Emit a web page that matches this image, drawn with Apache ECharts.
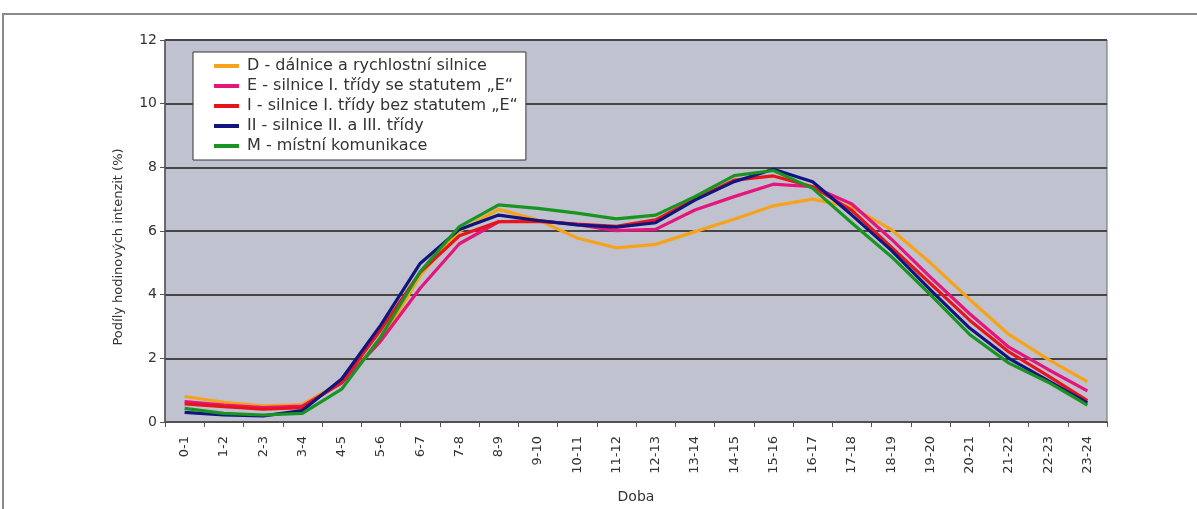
<!DOCTYPE html>
<html>
<head>
<meta charset="utf-8">
<script src="https://cdn.jsdelivr.net/npm/echarts@6/dist/echarts.min.js"></script>
<style>
  html, body { margin: 0; padding: 0; background: #ffffff; }
  #chart { width: 1197px; height: 509px; }
</style>
</head>
<body>
<div id="chart"></div>
<script>
// Hour-of-day intervals
const hours = ['0-1','1-2','2-3','3-4','4-5','5-6','6-7','7-8','8-9','9-10','10-11','11-12',
  '12-13','13-14','14-15','15-16','16-17','17-18','18-19','19-20','20-21','21-22','22-23','23-24'];

// Share of hourly traffic volume (%) per road category
const dalnice = [0.80, 0.62, 0.51, 0.55, 1.25, 2.55, 4.60, 6.00, 6.68, 6.35, 5.78, 5.47,
  5.58, 5.98, 6.37, 6.79, 7.00, 6.75, 6.05, 5.00, 3.85, 2.75, 1.97, 1.27];
const silniceE = [0.64, 0.53, 0.45, 0.50, 1.22, 2.55, 4.20, 5.60, 6.29, 6.33, 6.20, 6.01,
  6.05, 6.66, 7.08, 7.47, 7.39, 6.85, 5.75, 4.55, 3.40, 2.35, 1.65, 0.98];
const silniceI = [0.57, 0.48, 0.40, 0.45, 1.25, 2.90, 4.70, 5.85, 6.29, 6.30, 6.22, 6.15,
  6.35, 7.00, 7.60, 7.73, 7.39, 6.65, 5.50, 4.35, 3.20, 2.20, 1.45, 0.67];
const silniceII = [0.30, 0.22, 0.19, 0.36, 1.35, 3.05, 4.98, 6.05, 6.50, 6.33, 6.19, 6.12,
  6.26, 6.97, 7.55, 7.94, 7.55, 6.50, 5.40, 4.15, 2.95, 2.00, 1.30, 0.60];
const mistni = [0.43, 0.27, 0.22, 0.27, 1.03, 2.68, 4.72, 6.14, 6.82, 6.71, 6.56, 6.38,
  6.50, 7.08, 7.74, 7.90, 7.34, 6.25, 5.20, 4.00, 2.75, 1.85, 1.25, 0.53];

const seriesDefs = [
  { name: 'D - dálnice a rychlostní silnice', data: dalnice, color: '#F7A21B' },
  { name: 'E - silnice I. třídy se statutem „E“', data: silniceE, color: '#E4157C' },
  { name: 'I - silnice I. třídy bez statutem „E“', data: silniceI, color: '#E8141B' },
  { name: 'II - silnice II. a III. třídy', data: silniceII, color: '#10157F' },
  { name: 'M - místní komunikace', data: mistni, color: '#1A9421' }
];

const FONT = 'DejaVu Sans, Verdana, sans-serif';
const chart = echarts.init(document.getElementById('chart'), null, { renderer: 'canvas' });

chart.setOption({
  animation: false,
  backgroundColor: '#ffffff',
  textStyle: { fontFamily: FONT },
  graphic: [{
    type: 'rect',
    shape: { x: 3, y: 14, width: 1200, height: 520 },
    style: { fill: 'none', stroke: '#8a8a8a', lineWidth: 2 },
    silent: true
  }],
  grid: {
    left: 165, right: 90, top: 40, bottom: 87,
    show: true,
    backgroundColor: '#C0C3CF',
    borderColor: '#6b6b6b',
    borderWidth: 1
  },
  legend: {
    orient: 'vertical',
    left: 193, top: 52,
    backgroundColor: '#ffffff',
    borderColor: '#333333',
    borderWidth: 1,
    padding: [6, 8, 6, 21],
    itemGap: 4,
    itemWidth: 25,
    itemHeight: 4,
    icon: 'rect',
    textStyle: { fontFamily: FONT, fontSize: 16, color: '#333333', padding: [0, 0, 0, 3] },
    data: seriesDefs.map(s => s.name)
  },
  xAxis: {
    type: 'category',
    data: hours,
    boundaryGap: true,
    name: 'Doba',
    nameLocation: 'middle',
    nameGap: 68,
    nameTextStyle: { fontFamily: FONT, fontSize: 14, color: '#333333' },
    axisLine: { lineStyle: { color: '#555555', width: 1.5 } },
    axisTick: { show: true, length: 5, lineStyle: { color: '#555555' } },
    axisLabel: {
      rotate: 90, interval: 0, fontFamily: FONT, fontSize: 13, color: '#333333', margin: 14
    },
    splitLine: { show: false }
  },
  yAxis: {
    type: 'value',
    min: 0, max: 12, interval: 2,
    name: 'Podíly hodinových intenzit (%)',
    nameLocation: 'middle',
    nameGap: 40,
    nameTextStyle: { fontFamily: FONT, fontSize: 13, color: '#333333', padding: [0, 32, 0, 0] },
    axisLine: { show: true, lineStyle: { color: '#555555', width: 1.5 } },
    axisTick: { show: true, length: 5, lineStyle: { color: '#555555' } },
    axisLabel: { fontFamily: FONT, fontSize: 14, color: '#333333', margin: 8 },
    splitLine: { show: true, lineStyle: { color: '#454545', width: 2 } }
  },
  series: seriesDefs.map(s => ({
    name: s.name,
    type: 'line',
    data: s.data,
    symbol: 'none',
    smooth: false,
    itemStyle: { color: s.color },
    lineStyle: { color: s.color, width: 3.2 }
  }))
});
</script>
</body>
</html>
